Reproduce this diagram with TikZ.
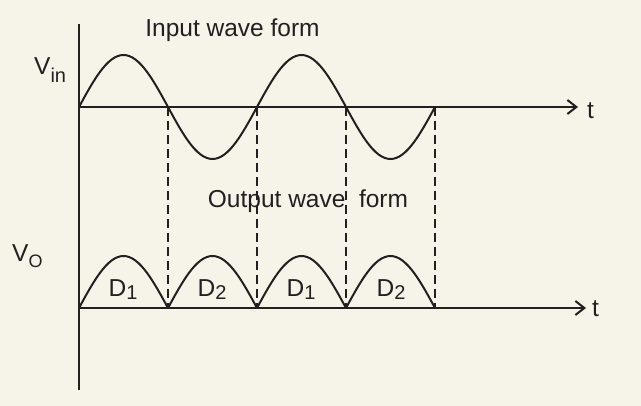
\documentclass[tikz,border=0pt]{standalone}
\usepackage{fontspec}
\setmainfont{Liberation Sans}
\usetikzlibrary{arrows.meta}
\definecolor{paper}{HTML}{F6F3E9}
\definecolor{ink}{HTML}{231F20}
\newcommand{\lowsub}[2]{\raisebox{-#1pt}{\fontsize{20}{20}\selectfont #2}}
\begin{document}
\begin{tikzpicture}[x=1pt, y=-1pt, ink,
    axis/.style = {line width=2.4pt, -{Straight Barb[length=9pt,width=14pt,line width=2pt]}},
    wave/.style = {line width=2pt, smooth},
    guide/.style = {line width=1.8pt, dash pattern=on 9pt off 5pt},
    lbl/.style = {font=\fontsize{24.5}{24.5}\selectfont, inner sep=0pt}]
    \fill[paper] (0,0) rectangle (641,406);
    \useasboundingbox (0,0) rectangle (641,406);

    \coordinate (top) at (79,24);
    \coordinate (bot) at (79,390);
    \coordinate (in0) at (79,107);
    \coordinate (inend) at (578,107);
    \coordinate (out0) at (79,308);
    \coordinate (outend) at (586,308);

    \foreach \k in {1,...,4} {
        \coordinate (u\k) at ({79+89*\k},107);
        \coordinate (l\k) at ({79+89*\k},308);
        \draw[guide] (u\k) -- (l\k);
    }

    \draw[line width=2.4pt] (top) -- (bot);
    \draw[axis] (in0) -- (inend);
    \draw[axis] (out0) -- (outend);

    \draw[wave] plot[domain=0:720, samples=121] ({79+0.494444*\x}, {107-52*sin(\x)});
    \foreach \k in {0,...,3}
        \draw[wave] plot[domain=0:180, samples=31] ({79+89*\k+0.494444*\x}, {308-52*sin(\x)});

    \node[lbl, anchor=base] (title1) at (232.5,37) {Input wave form};
    \node[lbl, anchor=base] (title2) at (308,208) {Output wave~ form};
    \node[lbl, anchor=base west] (vin) at (34,75) {V\lowsub{8}{in}};
    \node[lbl, anchor=base west] (vo) at (12,262) {V\lowsub{6}{\fontsize{18}{18}\selectfont O}};
    \node[lbl, anchor=base west] (t1) at (587,119) {t};
    \node[lbl, anchor=base west] (t2) at (592,317) {t};

    \foreach \x/\d [count=\i] in {123/1, 212/2, 301/1, 391/2}
        \node[lbl, anchor=base] (d\i) at (\x,297) {D\lowsub{3}{\d}};
\end{tikzpicture}
\end{document}
